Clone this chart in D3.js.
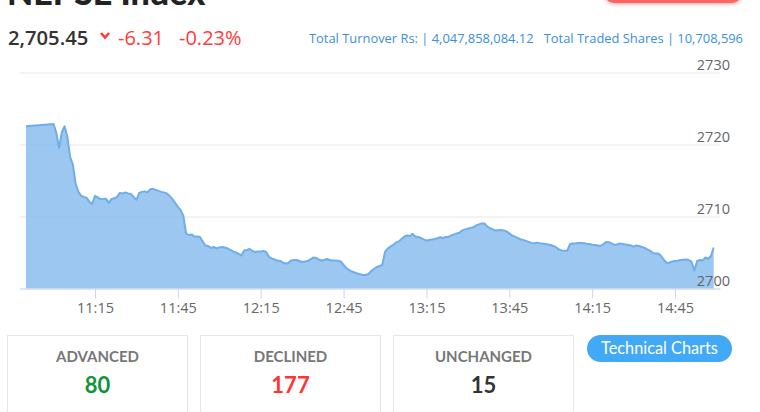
<!DOCTYPE html>
<html>
<head>
<meta charset="utf-8">
<script src="https://cdn.jsdelivr.net/npm/d3@7"></script>
<style>
body { margin: 0; background: #fff; }
svg { display: block; }
</style>
</head>
<body>
<div id="chart"></div>
<script>
// intraday index, one sample per minute (10:50 is the pre-open print)
const times = [
  "10:50",
  "11:00","11:01","11:02","11:03","11:04","11:05","11:06","11:07","11:08","11:09",
  "11:10","11:11","11:12","11:13","11:14","11:15","11:16","11:17","11:18","11:19",
  "11:20","11:21","11:22","11:23","11:24","11:25","11:26","11:27","11:28","11:29",
  "11:30","11:31","11:32","11:33","11:34","11:35","11:36","11:37","11:38","11:39",
  "11:40","11:41","11:42","11:43","11:44","11:45","11:46","11:47","11:48","11:49",
  "11:50","11:51","11:52","11:53","11:54","11:55","11:56","11:57","11:58","11:59",
  "12:00","12:01","12:02","12:03","12:04","12:05","12:06","12:07","12:08","12:09",
  "12:10","12:11","12:12","12:13","12:14","12:15","12:16","12:17","12:18","12:19",
  "12:20","12:21","12:22","12:23","12:24","12:25","12:26","12:27","12:28","12:29",
  "12:30","12:31","12:32","12:33","12:34","12:35","12:36","12:37","12:38","12:39",
  "12:40","12:41","12:42","12:43","12:44","12:45","12:46","12:47","12:48","12:49",
  "12:50","12:51","12:52","12:53","12:54","12:55","12:56","12:57","12:58","12:59",
  "13:00","13:01","13:02","13:03","13:04","13:05","13:06","13:07","13:08","13:09",
  "13:10","13:11","13:12","13:13","13:14","13:15","13:16","13:17","13:18","13:19",
  "13:20","13:21","13:22","13:23","13:24","13:25","13:26","13:27","13:28","13:29",
  "13:30","13:31","13:32","13:33","13:34","13:35","13:36","13:37","13:38","13:39",
  "13:40","13:41","13:42","13:43","13:44","13:45","13:46","13:47","13:48","13:49",
  "13:50","13:51","13:52","13:53","13:54","13:55","13:56","13:57","13:58","13:59",
  "14:00","14:01","14:02","14:03","14:04","14:05","14:06","14:07","14:08","14:09",
  "14:10","14:11","14:12","14:13","14:14","14:15","14:16","14:17","14:18","14:19",
  "14:20","14:21","14:22","14:23","14:24","14:25","14:26","14:27","14:28","14:29",
  "14:30","14:31","14:32","14:33","14:34","14:35","14:36","14:37","14:38","14:39",
  "14:40","14:41","14:42","14:43","14:44","14:45","14:46","14:47","14:48","14:49",
  "14:50","14:51","14:52","14:53","14:54","14:55","14:56","14:57","14:58","14:59"
];

const values = [
  2722.53,
  2722.84,2721.63,2719.54,2721.70,2722.53,2721.07,2718.29,2717.18,2714.53,2713.42,
  2712.87,2712.73,2712.59,2712.03,2711.75,2712.87,2712.66,2712.38,2712.45,2712.45,
  2711.89,2712.45,2712.52,2712.73,2713.28,2713.21,2713.35,2713.21,2713.14,2712.73,
  2712.31,2713.28,2713.42,2713.49,2713.35,2713.77,2713.84,2713.70,2713.56,2713.42,
  2713.35,2713.21,2712.87,2712.45,2711.89,2711.34,2710.92,2710.08,2707.58,2707.44,
  2707.51,2707.23,2707.23,2707.16,2706.54,2705.98,2705.91,2705.63,2705.77,2705.56,
  2705.70,2705.77,2705.70,2705.56,2705.35,2705.15,2705.01,2704.80,2704.59,2705.29,
  2705.35,2705.49,2705.22,2705.08,2705.15,2705.15,2705.22,2705.08,2704.38,2704.17,
  2704.03,2703.89,2703.82,2703.62,2703.48,2703.55,2703.89,2703.96,2703.96,2703.82,
  2703.69,2703.76,2703.82,2704.03,2704.31,2704.24,2704.03,2703.89,2703.96,2704.10,
  2703.96,2703.89,2703.89,2703.87,2703.76,2703.27,2702.85,2702.57,2702.36,2702.23,
  2702.09,2701.97,2701.88,2701.88,2702.02,2702.43,2702.71,2702.99,2703.13,2703.27,
  2705.08,2705.56,2705.84,2706.05,2706.40,2706.54,2706.88,2707.23,2707.37,2707.30,
  2707.58,2707.23,2707.16,2707.02,2706.82,2706.68,2706.75,2706.82,2706.88,2706.98,
  2707.12,2707.02,2707.16,2707.16,2707.37,2707.51,2707.65,2707.76,2708.07,2708.21,
  2708.32,2708.41,2708.51,2708.76,2708.90,2709.04,2709.04,2708.62,2708.37,2708.21,
  2708.07,2708.09,2708.11,2708.07,2707.93,2707.65,2707.37,2707.20,2707.02,2706.84,
  2706.75,2706.61,2706.47,2706.33,2706.29,2706.37,2706.29,2706.26,2706.19,2706.12,
  2706.05,2705.91,2705.70,2705.42,2705.29,2705.26,2705.26,2706.19,2706.26,2706.29,
  2706.33,2706.33,2706.29,2706.23,2706.19,2706.09,2706.05,2705.98,2705.91,2706.12,
  2706.47,2706.43,2706.26,2706.05,2706.12,2706.26,2706.19,2706.12,2706.05,2705.98,
  2705.81,2705.98,2705.91,2705.77,2705.63,2705.42,2705.26,2704.94,2704.87,2704.87,
  2704.52,2703.96,2703.55,2703.62,2703.76,2703.82,2703.85,2703.96,2704.01,2704.03,
  2703.96,2703.69,2702.50,2703.82,2703.96,2703.89,2704.31,2704.10,2704.52,2705.70
];

const yTicks = [2700, 2710, 2720, 2730];
const xTicks = ["11:15","11:45","12:15","12:45","13:15","13:45","14:15","14:45"];

const indexText = "2,705.45";
const changeText = "-6.31";
const changePctText = "-0.23%";
const turnoverText = "Total Turnover Rs: | 4,047,858,084.12";
const sharesText = "Total Traded Shares | 10,708,596";

const breadthLabels = ["ADVANCED", "DECLINED", "UNCHANGED"];
const breadthValues = [80, 177, 15];
const breadthColors = ["#13923a", "#ff3333", "#333333"];

const W = 760, H = 412;
const plotLeft = 19.5, plotRight = 720;
const parseHM = d3.timeParse("%H:%M");
const parseHMS = d3.timeParse("%H:%M:%S");
const lato = "Lato, 'Open Sans', sans-serif";
const open = "'Open Sans', sans-serif";

const data = times.map((t, i) => ({ t: parseHM(t), v: values[i] }));

const svg = d3.select("#chart").append("svg")
  .attr("width", W)
  .attr("height", H);

const x = d3.scaleTime()
  .domain([parseHMS("10:47:40"), parseHMS("15:01:17")])
  .range([plotLeft, plotRight]);

const y = d3.scaleLinear()
  .domain([2700, 2730])
  .range([288.5, 72.5]);

// header
svg.append("text")
  .attr("x", 7).attr("y", 5)
  .attr("font-family", lato)
  .attr("font-weight", 900)
  .attr("font-size", 34)
  .attr("fill", "#222")
  .text("NEPSE Index");

svg.append("rect")
  .attr("x", 604).attr("y", -30)
  .attr("width", 138).attr("height", 33)
  .attr("rx", 10)
  .attr("fill", "#ff6464")
  .style("filter", "drop-shadow(0 1px 2px rgba(255,80,80,0.5))");

svg.append("text")
  .attr("x", 8).attr("y", 45)
  .attr("font-family", open)
  .attr("font-weight", 600)
  .attr("font-size", 20.2)
  .attr("fill", "#333")
  .text(indexText);

svg.append("path")
  .attr("d", "M101,33 L105,37.5 L109,33")
  .attr("fill", "none")
  .attr("stroke", "#ff3b3b")
  .attr("stroke-width", 2.6);

svg.append("text")
  .attr("x", 118).attr("y", 45)
  .attr("font-family", open)
  .attr("font-size", 20)
  .attr("fill", "#ff3b3b")
  .text(changeText);

svg.append("text")
  .attr("x", 179).attr("y", 45)
  .attr("font-family", open)
  .attr("font-size", 20)
  .attr("fill", "#ff3b3b")
  .text(changePctText);

svg.append("text")
  .attr("x", 309).attr("y", 42.5)
  .attr("font-family", open)
  .attr("font-size", 12.9)
  .attr("fill", "#3b8fdc")
  .text(turnoverText);

svg.append("text")
  .attr("x", 743).attr("y", 42.5)
  .attr("text-anchor", "end")
  .attr("font-family", open)
  .attr("font-size", 12.9)
  .attr("fill", "#3b8fdc")
  .text(sharesText);

// grid lines (under the area)
const grid = d3.axisLeft(y)
  .tickValues(yTicks)
  .tickSize(plotRight - plotLeft)
  .tickFormat("");

const gg = svg.append("g")
  .attr("transform", "translate(" + plotRight + ",0)")
  .call(grid);
gg.select(".domain").remove();
gg.selectAll(".tick line").attr("stroke", "#e6e6e6");

// area
const area = d3.area()
  .x(d => x(d.t))
  .y0(y(2700))
  .y1(d => y(d.v));

const line = d3.line()
  .x(d => x(d.t))
  .y(d => y(d.v));

svg.append("path")
  .datum(data)
  .attr("d", area)
  .attr("fill", "#7cb5ec")
  .attr("fill-opacity", 0.76);

svg.append("path")
  .datum(data)
  .attr("d", line)
  .attr("fill", "none")
  .attr("stroke", "#6faee9")
  .attr("stroke-width", 2)
  .attr("stroke-linejoin", "round");

// x axis
const xAxis = d3.axisBottom(x)
  .tickValues(xTicks.map(parseHM))
  .tickFormat(d3.timeFormat("%H:%M"))
  .tickSize(10)
  .tickSizeOuter(0)
  .tickPadding(4);

const gx = svg.append("g")
  .attr("transform", "translate(0," + y(2700) + ")")
  .call(xAxis);
gx.select(".domain").attr("stroke", "#ccd6eb");
gx.selectAll(".tick line").attr("stroke", "#ccd6eb");
gx.selectAll(".tick text")
  .attr("fill", "#666")
  .attr("font-family", open)
  .attr("font-size", 14.5);

// y labels (drawn on top of the area)
const yLabels = d3.axisRight(y)
  .tickValues(yTicks)
  .tickSize(0)
  .tickPadding(0)
  .tickFormat(d3.format("d"));

const gy = svg.append("g")
  .attr("transform", "translate(730,0)")
  .call(yLabels);
gy.select(".domain").remove();
gy.selectAll(".tick text")
  .attr("dy", -3)
  .attr("text-anchor", "end")
  .attr("fill", "#666")
  .attr("font-family", open)
  .attr("font-size", 14.5);

// market breadth boxes
const boxX = [7.5, 200.5, 393.5];
const boxW = 180;

const boxes = svg.selectAll(".box")
  .data(breadthLabels)
  .enter()
  .append("g")
  .attr("class", "box")
  .attr("transform", (d, i) => "translate(" + boxX[i] + ",335.5)");

boxes.append("rect")
  .attr("width", boxW)
  .attr("height", 100)
  .attr("fill", "#fff")
  .attr("stroke", "#e6e6e6");

boxes.append("text")
  .attr("x", boxW / 2)
  .attr("y", 26)
  .attr("text-anchor", "middle")
  .attr("font-family", lato)
  .attr("font-weight", 700)
  .attr("font-size", 15)
  .attr("fill", "#777")
  .text(d => d);

boxes.append("text")
  .attr("x", boxW / 2)
  .attr("y", 57)
  .attr("text-anchor", "middle")
  .attr("font-family", lato)
  .attr("font-weight", 700)
  .attr("font-size", 22)
  .attr("fill", (d, i) => breadthColors[i])
  .text((d, i) => breadthValues[i]);

// button
svg.append("rect")
  .attr("x", 587).attr("y", 335)
  .attr("width", 145).attr("height", 27)
  .attr("rx", 13.5)
  .attr("fill", "#42a9f6");

svg.append("text")
  .attr("x", 659.5).attr("y", 354)
  .attr("text-anchor", "middle")
  .attr("font-family", lato)
  .attr("font-size", 16.3)
  .attr("fill", "#fff")
  .text("Technical Charts");
</script>
</body>
</html>
